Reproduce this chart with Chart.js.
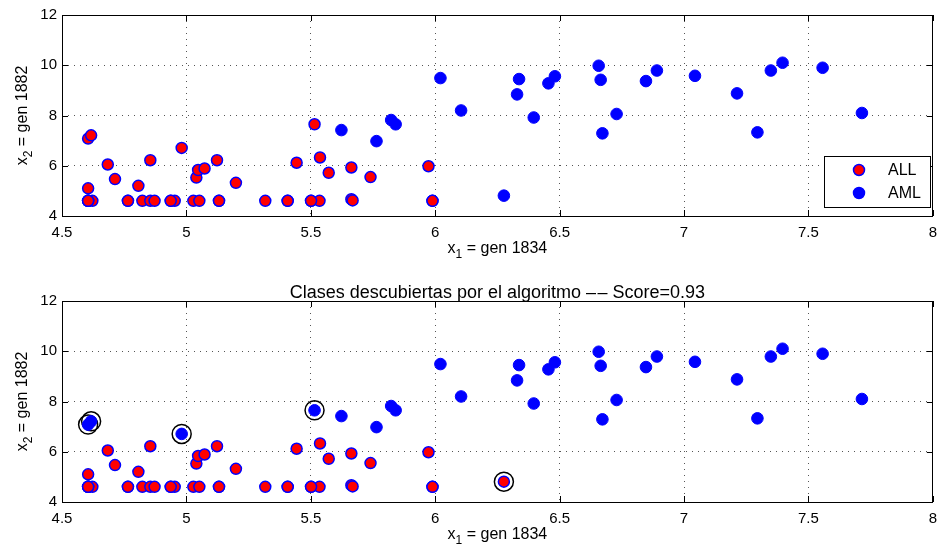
<!DOCTYPE html>
<html>
<head>
<meta charset="utf-8">
<script src="https://cdn.jsdelivr.net/npm/chart.js@4.4.1/dist/chart.umd.min.js"></script>
<style>
  body { margin: 0; background: #fff; }
  .panel { position: absolute; left: 0; width: 945px; height: 275px; }
</style>
</head>
<body>
<div class="panel" style="top:0"><canvas id="topPlot" width="945" height="275"></canvas></div>
<div class="panel" style="top:275px"><canvas id="bottomPlot" width="945" height="275"></canvas></div>
<script>
// ALL samples: gene 1834 (x1) and gene 1882 (x2), log expression
var allX1 = [4.605, 4.617, 4.684, 4.713, 4.605, 4.605, 4.622, 4.765, 4.807, 4.823,
             4.855, 4.855, 4.872, 4.937, 4.953, 4.981, 5.028, 5.052, 5.040, 5.047,
             5.073, 5.123, 5.131, 5.199, 5.317, 5.407, 5.443, 5.501, 5.515, 5.535,
             5.537, 5.572, 5.663, 5.663, 5.668, 5.740, 5.973, 5.989,
             4.605, 4.605, 4.605, 4.937, 5.131, 5.407, 5.501, 4.765, 5.989];
var allX2 = [7.08, 7.21, 6.05, 5.47, 5.10, 4.605, 4.605, 4.605, 5.20, 4.605,
             6.22, 4.605, 4.605, 4.605, 4.605, 6.71, 4.605, 4.605, 5.53, 5.83,
             5.89, 6.22, 4.605, 5.32, 4.605, 4.605, 6.12, 4.605, 7.65, 4.605,
             6.33, 5.72, 5.93, 4.67, 4.62, 5.55, 5.98, 4.605,
             4.605, 4.605, 4.605, 4.605, 4.605, 4.605, 4.605, 4.605, 4.605];

// AML samples
var amlX1 = [5.623, 5.764, 5.823, 5.841, 6.021, 6.104, 6.276, 6.329, 6.337, 6.396,
             6.455, 6.481, 6.657, 6.665, 6.672, 6.729, 6.847, 6.891, 7.044, 7.213,
             7.295, 7.349, 7.396, 7.557, 7.715];
var amlX2 = [7.42, 6.98, 7.82, 7.65, 9.49, 8.20, 4.81, 8.84, 9.45, 7.92,
             9.28, 9.56, 9.98, 9.42, 7.29, 8.06, 9.37, 9.79, 9.58, 8.88,
             7.33, 9.79, 10.10, 9.90, 8.10];

// samples the algorithm put in the other class (indices)
var allFoundAsAml = [0, 1, 15, 28];
var amlFoundAsAll = [6];

var xTicks = [4.5, 5, 5.5, 6, 6.5, 7, 7.5, 8];
var yTicks = [4, 6, 8, 10, 12];
var classNames = ['ALL', 'AML'];
var xLabel = ['x', '1', ' = gen 1834'];
var yLabel = ['x', '2', ' = gen 1882'];
var bottomTitle = 'Clases descubiertas por el algoritmo \u2013\u200a\u2013 Score=0.93';

var fontFamily = '"Liberation Sans", Arial, Helvetica, sans-serif';
var red = '#ff0000';
var blue = '#0000ff';

function toPoints(xs, ys, keep) {
  var pts = [];
  for (var i = 0; i < xs.length; i++) {
    if (!keep || keep(i)) pts.push({ x: xs[i], y: ys[i] });
  }
  return pts;
}

// text like "x_1 = gen 1834", centred on (cx, cy)
function drawSubText(ctx, parts, cx, cy) {
  var big = '16px ' + fontFamily, small = '12px ' + fontFamily;
  ctx.font = big; var w0 = ctx.measureText(parts[0]).width;
  ctx.font = small; var w1 = ctx.measureText(parts[1]).width;
  ctx.font = big; var w2 = ctx.measureText(parts[2]).width;
  var x = cx - (w0 + w1 + w2) / 2;
  ctx.fillStyle = '#000';
  ctx.textAlign = 'left';
  ctx.textBaseline = 'alphabetic';
  ctx.font = big; ctx.fillText(parts[0], x, cy + 5);
  ctx.font = small; ctx.fillText(parts[1], x + w0, cy + 10);
  ctx.font = big; ctx.fillText(parts[2], x + w0 + w1, cy + 5);
}

function axesPlugin(opts) {
  return {
    id: 'matlabAxes',
    afterDraw: function (chart) {
      var ctx = chart.ctx, a = chart.chartArea;
      var xs = chart.scales.x, ys = chart.scales.y;
      ctx.save();
      ctx.strokeStyle = '#000';
      ctx.lineWidth = 1;
      ctx.strokeRect(Math.round(a.left) + 0.5, Math.round(a.top) + 0.5,
                     Math.round(a.right - a.left) - 1, Math.round(a.bottom - a.top));
      // inward tick marks on all four sides
      ctx.beginPath();
      xTicks.forEach(function (v) {
        var px = Math.round(xs.getPixelForValue(v)) + 0.5;
        ctx.moveTo(px, a.bottom); ctx.lineTo(px, a.bottom - 6);
        ctx.moveTo(px, a.top); ctx.lineTo(px, a.top + 6);
      });
      yTicks.forEach(function (v) {
        var py = Math.round(ys.getPixelForValue(v)) + 0.5;
        ctx.moveTo(a.left, py); ctx.lineTo(a.left + 6, py);
        ctx.moveTo(a.right, py); ctx.lineTo(a.right - 6, py);
      });
      ctx.stroke();

      var midX = (a.left + a.right) / 2, midY = (a.top + a.bottom) / 2;
      drawSubText(ctx, xLabel, midX, a.bottom + 32);
      ctx.save();
      ctx.translate(22, midY);
      ctx.rotate(-Math.PI / 2);
      drawSubText(ctx, yLabel, 0, 0);
      ctx.restore();

      if (opts.title) {
        ctx.font = '18px ' + fontFamily;
        ctx.fillStyle = '#000';
        ctx.textAlign = 'center';
        ctx.textBaseline = 'middle';
        ctx.fillText(opts.title, midX, a.top - 8);
      }

      if (opts.legend) {
        var bx = 824, by = 156, bw = 106, bh = 51;
        ctx.fillStyle = '#fff';
        ctx.fillRect(bx, by, bw, bh);
        ctx.strokeStyle = '#000';
        ctx.lineWidth = 1;
        ctx.strokeRect(bx + 0.5, by + 0.5, bw, bh);
        var rows = [
          { y: by + 14, fill: red, label: classNames[0] },
          { y: by + 37, fill: blue, label: classNames[1] }
        ];
        rows.forEach(function (r) {
          ctx.beginPath();
          ctx.arc(bx + 35, r.y, 5.5, 0, Math.PI * 2);
          ctx.fillStyle = r.fill;
          ctx.fill();
          ctx.lineWidth = 1.5;
          ctx.strokeStyle = blue;
          ctx.stroke();
          ctx.fillStyle = '#000';
          ctx.font = '16px ' + fontFamily;
          ctx.textAlign = 'left';
          ctx.textBaseline = 'middle';
          ctx.fillText(r.label, bx + 64, r.y + 1);
        });
      }
      ctx.restore();
    }
  };
}

function baseOptions(topPad) {
  return {
    responsive: false,
    animation: false,
    events: [],
    layout: { padding: { top: topPad, right: 8, left: 0, bottom: 0 } },
    plugins: { legend: { display: false }, tooltip: { enabled: false } },
    scales: {
      x: {
        type: 'linear', min: 4.5, max: 8,
        afterFit: function (s) { s.height = 275 - 201 - topPad; },
        afterBuildTicks: function (s) { s.ticks = xTicks.map(function (v) { return { value: v }; }); },
        border: { display: false, dash: [1, 5] },
        grid: { color: '#555', lineWidth: 1, drawTicks: false },
        ticks: { padding: 8, color: '#000', font: { family: fontFamily, size: 15 }, maxRotation: 0,
                 callback: function (v) { return String(v); } }
      },
      y: {
        type: 'linear', min: 4, max: 12,
        afterFit: function (s) { s.width = 62; },
        afterBuildTicks: function (s) { s.ticks = yTicks.map(function (v) { return { value: v }; }); },
        border: { display: false, dash: [1, 5] },
        grid: { color: '#555', lineWidth: 1, drawTicks: false },
        ticks: { padding: 5, color: '#000', font: { family: fontFamily, size: 15 },
                 callback: function (v) { return String(v); } }
      }
    }
  };
}

var allStyle = { backgroundColor: red, borderColor: blue, borderWidth: 1.5, pointRadius: 5.5 };
var amlStyle = { backgroundColor: blue, borderColor: blue, borderWidth: 1, pointRadius: 5.8 };

// top: true classes
var topChart = new Chart(document.getElementById('topPlot'), {
  type: 'scatter',
  data: {
    datasets: [
      Object.assign({ label: classNames[0], data: toPoints(allX1, allX2) }, allStyle),
      Object.assign({ label: classNames[1], data: toPoints(amlX1, amlX2) }, amlStyle)
    ]
  },
  options: baseOptions(15),
  plugins: [axesPlugin({ legend: true })]
});

// bottom: classes found by the algorithm, errors circled
var foundAll = toPoints(allX1, allX2, function (i) { return allFoundAsAml.indexOf(i) < 0; })
  .concat(toPoints(amlX1, amlX2, function (i) { return amlFoundAsAll.indexOf(i) >= 0; }));
var foundAml = toPoints(amlX1, amlX2, function (i) { return amlFoundAsAll.indexOf(i) < 0; })
  .concat(toPoints(allX1, allX2, function (i) { return allFoundAsAml.indexOf(i) >= 0; }));
var errors = toPoints(allX1, allX2, function (i) { return allFoundAsAml.indexOf(i) >= 0; })
  .concat(toPoints(amlX1, amlX2, function (i) { return amlFoundAsAll.indexOf(i) >= 0; }));

var bottomChart = new Chart(document.getElementById('bottomPlot'), {
  type: 'scatter',
  data: {
    datasets: [
      Object.assign({ label: classNames[0], data: foundAll }, allStyle),
      Object.assign({ label: classNames[1], data: foundAml }, amlStyle),
      { label: 'errores', data: errors, backgroundColor: 'rgba(0,0,0,0)', borderColor: '#000',
        borderWidth: 1.5, pointRadius: 9.5 }
    ]
  },
  options: baseOptions(26),
  plugins: [axesPlugin({ title: bottomTitle })]
});
</script>
</body>
</html>
